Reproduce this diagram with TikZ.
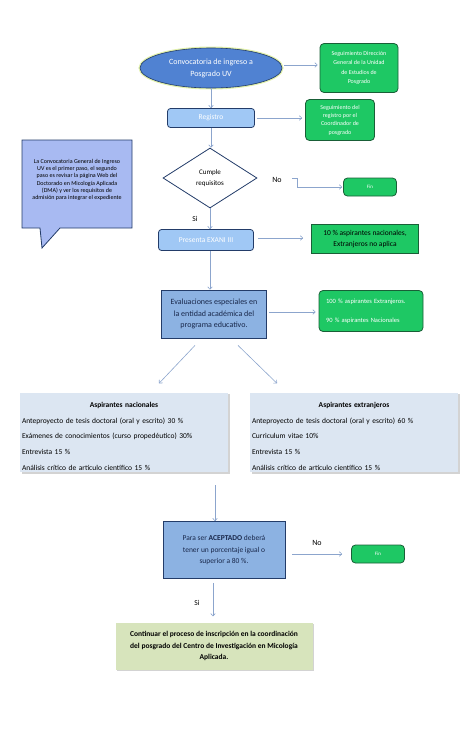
\documentclass[tikz,border=0pt]{standalone}
\usepackage{fontspec}
\setmainfont{Carlito}
\usetikzlibrary{arrows.meta,shapes.geometric,shadows,calc}

\definecolor{arrowblue}{RGB}{140,165,205}
\definecolor{ovalblue}{RGB}{80,130,210}
\definecolor{darkblue}{RGB}{35,60,105}
\definecolor{navytext}{RGB}{25,40,75}
\definecolor{greenbox}{RGB}{30,200,100}
\definecolor{greenline}{RGB}{25,95,55}
\definecolor{paleblue}{RGB}{160,200,245}
\definecolor{midblue}{RGB}{140,178,226}
\definecolor{greyblue}{RGB}{220,230,242}
\definecolor{palegreen}{RGB}{215,228,188}
\definecolor{callblue}{RGB}{168,186,242}
\definecolor{glow}{RGB}{225,240,170}

\tikzset{
  flecha/.style={draw=arrowblue, line width=0.6pt, -{To[length=3pt,width=5pt]}},
  verde/.style={rounded corners=4pt, fill=greenbox, draw=greenline, line width=0.8pt,
    text=white, align=center, inner sep=0pt},
  celeste/.style={rounded corners=3pt, fill=paleblue, draw=darkblue, line width=0.8pt,
    text=white, inner sep=0pt, font=\fontsize{7.5}{9}\selectfont},
  azul/.style={fill=midblue, draw=darkblue, line width=0.8pt, text=navytext,
    align=center, inner sep=0pt, font=\fontsize{8}{11.2}\selectfont},
  tabla/.style={fill=greyblue, inner sep=2pt, text width=204pt, align=left,
    minimum height=73pt, font=\fontsize{7.5}{15.7}\selectfont,
    drop shadow={shadow xshift=1.5pt, shadow yshift=-1.5pt, opacity=0.35}},
  etiqueta/.style={font=\fontsize{8}{10}\selectfont, inner sep=0pt}
}

\begin{document}
\begin{tikzpicture}[x=1pt,y=-1pt]
  \useasboundingbox (0,0) rectangle (474,732);

  %Nota lateral
  \draw[fill=callblue, draw=darkblue, line width=0.8pt]
    (22,140) -- (132,140) -- (132,228) -- (60,228) -- (42,248) -- (40,228) -- (22,228) -- cycle;
  \node[align=center, inner sep=0pt, font=\fontsize{6}{7.2}\selectfont] (nota) at (77,180)
    {La Convocatoria General de Ingreso\\UV es el primer paso, el segundo\\paso es revisar la página Web del\\
     Doctorado en Micología Aplicada\\(DMA) y ver los requisitos de\\admisión para integrar el expediente};

  %Inicio
  \node[ellipse, fill=ovalblue, draw=darkblue, line width=0.6pt,
        preaction={draw=glow, line width=3pt}, minimum width=142pt, minimum height=40pt,
        inner sep=0pt, text=white, align=center, font=\fontsize{8}{12}\selectfont]
        (conv) at (211,68) {Convocatoria de ingreso a\\Posgrado UV};
  \node[verde, minimum width=78pt, minimum height=49pt, font=\fontsize{6}{9.2}\selectfont]
        (segdir) at (359,68) {Seguimiento Dirección\\General de la Unidad\\de Estudios de\\Posgrado};

  \node[celeste, minimum width=87pt, minimum height=19pt] (reg) at (211,118) {Registro};
  \node[verde, minimum width=69pt, minimum height=41pt, font=\fontsize{6}{8.3}\selectfont]
        (segreg) at (340,120) {Seguimiento del\\registro  por el\\Coordinador de\\posgrado};

  %Requisitos
  \node[diamond, draw=darkblue, fill=white, line width=0.8pt, minimum width=94pt,
        minimum height=60pt, inner sep=0pt, align=center, font=\fontsize{7}{11}\selectfont]
        (cumple) at (210,178) {Cumple\\requisitos};
  \node[etiqueta] (no1) at (277,180) {No};
  \coordinate (nosal) at (292,178);
  \node[verde, minimum width=53pt, minimum height=18pt, font=\fontsize{5}{6}\selectfont]
        (fin1) at (370,187) {Fin};
  \node[etiqueta, font=\fontsize{7.5}{9}\selectfont] (si1) at (195,219) {Si};

  \node[celeste, minimum width=95pt, minimum height=21pt] (exani) at (206,240) {Presenta EXANI III};
  \node[fill=greenbox, draw=greenline, line width=0.8pt, minimum width=107pt, minimum height=29pt,
        inner sep=0pt, align=center, font=\fontsize{7.5}{11}\selectfont]
        (diez) at (365,239) {10 \% aspirantes nacionales,\\Extranjeros no aplica};

  %Evaluaciones
  \node[azul, minimum width=105pt, minimum height=48pt] (evalua) at (214,314)
        {Evaluaciones especiales en\\la entidad académica del\\programa educativo.};
  \node[verde, minimum width=104pt, minimum height=41pt, text width=90pt, align=left,
        font=\fontsize{6.5}{8}\selectfont]
        (cien) at (371,311) {100 \% aspirantes Extranjeros.\\[11pt]90 \% aspirantes Nacionales};

  \node[tabla] (nac) at (124,432.5)
        {\rule{0pt}{13pt}\makebox[\linewidth]{\textbf{Aspirantes nacionales}}\\
         Anteproyecto de tesis doctoral  (oral y escrito) 30 \%\\
         Exámenes de conocimientos (curso propedéutico) 30\%\\
         Entrevista 15 \%\\
         Análisis crítico de artículo científico 15 \%};
  \node[tabla] (ext) at (354,432.5)
        {\rule{0pt}{13pt}\makebox[\linewidth]{\textbf{Aspirantes extranjeros}}\\
         Anteproyecto de tesis doctoral (oral y escrito) 60 \%\\
         Curriculum vitae 10\%\\
         Entrevista 15 \%\\
         Análisis crítico de artículo científico 15 \%};

  %Decision final
  \coordinate (bajada) at (215,485);
  \node[azul, minimum width=122pt, minimum height=57pt, font=\fontsize{7.5}{11.2}\selectfont]
        (acept) at (224,550) {Para ser \textbf{ACEPTADO} deberá\\tener un porcentaje igual o\\superior a 80 \%.};
  \node[etiqueta] (no2) at (317,543) {No};
  \node[verde, minimum width=53pt, minimum height=18pt, font=\fontsize{5}{6}\selectfont]
        (fin2) at (378,554) {Fin};
  \node[etiqueta, font=\fontsize{7.5}{9}\selectfont] (si2) at (197,603) {Si};
  \node[fill=palegreen, minimum width=197pt, minimum height=47pt, inner sep=0pt, align=center,
        font=\fontsize{7.5}{11.5}\selectfont\bfseries,
        drop shadow={shadow xshift=1.5pt, shadow yshift=-1.5pt, opacity=0.35}]
        (cont) at (214,646) {Continuar el proceso de inscripción en la coordinación\\
         del posgrado del Centro de Investigación en Micología\\Aplicada.};

  %Conectores
  \draw[flecha] ($(conv.east)+(2,-3)$) -- ($(segdir.west)+(-2,-3)$);
  \draw[flecha] (conv.south) -- (reg.north);
  \draw[flecha] ($(reg.east)+(2,0)$) -- ($(segreg.west)+(-3,-2)$);
  \draw[flecha] (reg.south) -- (reg.south |- cumple.north);
  \draw[flecha] (nosal) -- ++(5,0) |- ($(fin1.west)+(-1,0)$);
  \draw[flecha] (cumple.south) -- (cumple.south |- exani.north);
  \draw[flecha] ($(exani.east)+(4,-2)$) -- ($(diez.west)+(-8,-1)$);
  \draw[flecha] (exani.south -| cumple.south) -- (cumple.south |- evalua.north);
  \draw[flecha] ($(evalua.east)+(2,-2)$) -- ($(cien.west)+(-3,1)$);
  \draw[flecha] ($(evalua.south)+(-19,7)$) -- ($(nac.north)+(35,-9)$);
  \draw[flecha] ($(evalua.south)+(24,7)$) -- ($(ext.north)+(-77,-9)$);
  \draw[flecha] (bajada) -- (bajada |- acept.north);
  \draw[flecha] ($(fin2.west -| acept.east)+(7,0)$) -- ($(fin2.west)+(-9,0)$);
  \draw[flecha] ($(acept.south)+(-11,4)$) -- ($(cont.north)+(-1,-6)$);
\end{tikzpicture}
\end{document}
